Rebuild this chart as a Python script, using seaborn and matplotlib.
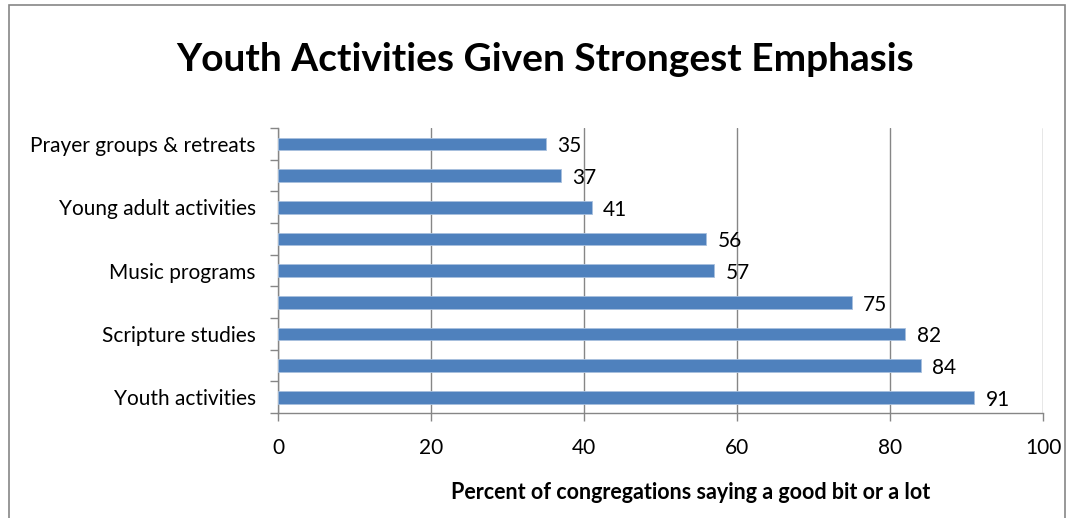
import matplotlib
matplotlib.use('Agg')
import matplotlib.pyplot as plt
import seaborn as sb
import pandas as pd
from matplotlib.patches import Rectangle

# categories top -> bottom; unlabeled rows keep a unique key but show no tick text
categories = ['Prayer groups & retreats', 'row2', 'Young adult activities', 'row4',
              'Music programs', 'row6', 'Scripture studies', 'row8', 'Youth activities']
tick_labels = ['Prayer groups & retreats', '', 'Young adult activities', '',
               'Music programs', '', 'Scripture studies', '', 'Youth activities']
values = [35, 37, 41, 56, 57, 75, 82, 84, 91]
x_ticks = [0, 20, 40, 60, 80, 100]

df = pd.DataFrame({'cat': categories, 'val': values})

sb.set_style('white')
plt.rcParams['font.family'] = ['Lato', 'DejaVu Sans']
plt.rcParams['text.color'] = 'black'
plt.rcParams['xtick.color'] = 'black'
plt.rcParams['ytick.color'] = 'black'

fig = plt.figure(figsize=(10.67, 5.18), dpi=100)
ax = fig.add_axes([0.2605, 0.2027, 0.717, 0.55])

sb.barplot(data=df, y='cat', x='val', order=categories, orient='h',
           color='#4F81BD', saturation=1, width=0.4, edgecolor='#A8C0DE',
           linewidth=0.6, ax=ax, zorder=3)

for i, v in enumerate(values):
    ax.text(v + 1.5, i + 0.08, str(v), va='center', ha='left', fontsize=15, color='black')

ax.set_xlim(0, 100)
ax.set_ylim(len(categories) - 0.5, -0.5)
ax.set_xticks(x_ticks)
ax.set_xticklabels([str(t) for t in x_ticks], fontsize=15)
ax.set_yticks(range(len(categories)))
ax.set_yticklabels(tick_labels, fontsize=15)
ax.tick_params(axis='y', which='major', left=False, length=0, pad=16)
ax.set_yticks([i - 0.5 for i in range(len(categories) + 1)], minor=True)
ax.tick_params(axis='y', which='minor', left=True, length=6, direction='out',
               color='#868686', width=1)
ax.tick_params(axis='x', bottom=True, length=6, direction='out', color='#868686',
               labelcolor='black', width=1, pad=12)

ax.grid(axis='x', color='#868686', linewidth=1, zorder=0)
ax.set_axisbelow(True)
for s in ['top', 'right']:
    ax.spines[s].set_visible(False)
for s in ['left', 'bottom']:
    ax.spines[s].set_color('#868686')
    ax.spines[s].set_linewidth(1)
ax.set_ylabel('')
ax.set_xlabel('')

fig.text(0.511, 0.885, 'Youth Activities Given Strongest Emphasis', ha='center', va='center',
         fontsize=28, fontweight='bold', color='black')
fig.text(0.647, 0.05, 'Percent of congregations saying a good bit or a lot', ha='center',
         va='center', fontsize=15.5, fontweight='bold', color='black')

fig.patches.append(Rectangle((0.008, -0.05), 0.99, 1.04, transform=fig.transFigure,
                             fill=False, edgecolor='#868686', linewidth=1.2))

fig.savefig('out.png', dpi=100)
